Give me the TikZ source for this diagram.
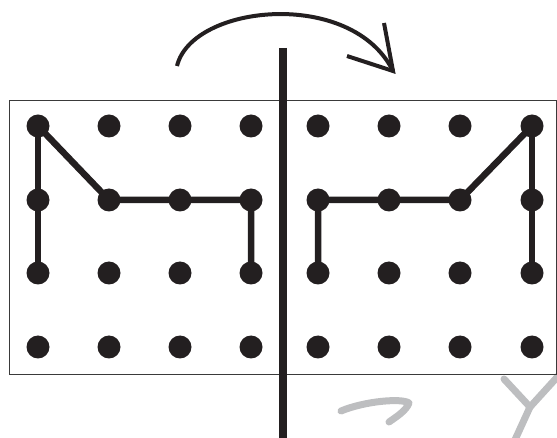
\documentclass[tikz,border=0pt]{standalone}
\usetikzlibrary{positioning}
\definecolor{ink}{HTML}{231F20}
\definecolor{frame}{HTML}{3A3A3A}
\definecolor{ghost}{HTML}{BDBEC0}
\tikzset{
  dot/.style={circle,fill=ink,draw=none,minimum size=23pt,inner sep=0pt},
  seg/.style={draw=ink,line width=6.5pt},
  axis/.style={draw=ink,line width=8pt},
  turn/.style={draw=ink,line width=4pt},
  boxframe/.style={draw=frame,line width=1pt},
  ghoststroke/.style={draw=ghost,line width=7pt,line cap=round,line join=round}
}
\begin{document}
\begin{tikzpicture}[x=1pt,y=-1pt]
\useasboundingbox (0,0) rectangle (557,438);
% faint marks
\draw[ghoststroke] (341,411) .. controls (365,401) and (402,398) .. (409,403) .. controls (406,411) and (396,417) .. (389,422);
\coordinate (yj) at (530,407);
\draw[ghoststroke] (504,379) -- (yj) -- (514,442);
\draw[ghoststroke] (560,374) -- (yj);
% frame
\draw[boxframe] (9.5,100.5) rectangle (556.5,374);
% dots
\foreach \x [count=\i] in {38,109,180,251}{
  \foreach \y [count=\j] in {126,200,273,347}{
    \node[dot] (L\j\i) at (\x,\y) {};
  }
}
\foreach \x [count=\i] in {318,389,460,532}{
  \foreach \y [count=\j] in {126,200,273,347}{
    \node[dot] (R\j\i) at (\x,\y) {};
  }
}
% left figure
\draw[seg] (L11.center) -- (L21.center) -- (L31.center);
\draw[seg] (L11.center) -- (L22.center) -- (L23.center) -- (L24.center) -- (L34.center);
% right figure
\draw[seg] (R14.center) -- (R24.center) -- (R34.center);
\draw[seg] (R14.center) -- (R23.center) -- (R22.center) -- (R21.center) -- (R31.center);
% mirror axis
\coordinate (axtop) at (283,48);
\coordinate (axbot) at (283,438);
\draw[axis] (axtop) -- (axbot);
% turning arrow
\coordinate (arcstart) at (177,66);
\coordinate (tip) at (393,71);
\coordinate (barbA) at (384,23);
\coordinate (barbB) at (347,56);
\draw[turn] (arcstart) .. controls (192,4) and (352,-12) .. (tip);
\draw[turn,line join=miter] (barbA) -- (tip) -- (barbB);
\end{tikzpicture}
\end{document}
